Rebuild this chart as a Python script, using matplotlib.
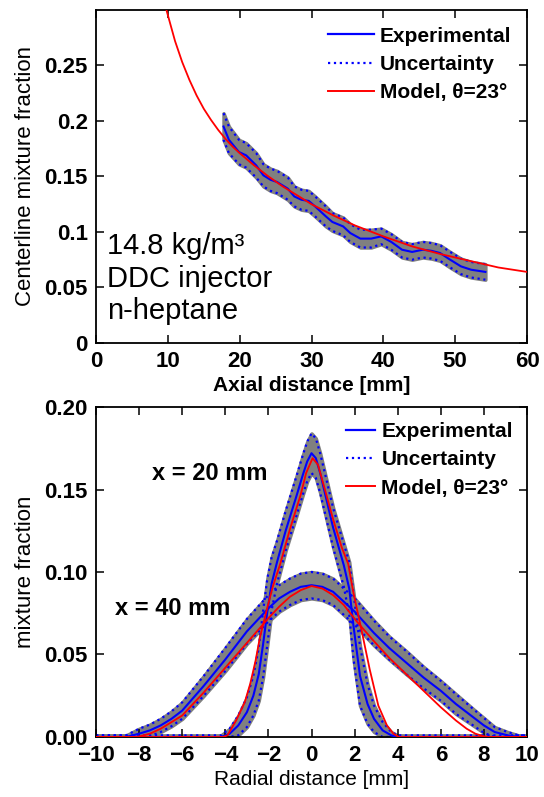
import matplotlib
matplotlib.use("Agg")
import matplotlib.pyplot as plt
import numpy as np
from matplotlib.lines import Line2D

plt.rcParams['font.family'] = ['Liberation Sans', 'DejaVu Sans']

# ---- top panel: centerline mixture fraction vs axial distance ----
ax_exp = [17.75, 18.5, 19.9, 20.9, 22.3, 23.3, 24.3, 25.2, 26.7, 27.6, 28.6, 29.6,
          30.5, 32.0, 32.9, 34.4, 35.4, 36.8, 38.3, 39.7, 41.1, 42.6, 44.0, 45.5,
          46.7, 47.9, 49.3, 50.8, 52.2, 54.2]
zc_exp = [0.195, 0.183, 0.172, 0.169, 0.160, 0.151, 0.147, 0.145, 0.139, 0.132, 0.129, 0.128,
          0.123, 0.114, 0.109, 0.105, 0.099, 0.094, 0.094, 0.096, 0.091, 0.084, 0.082, 0.084,
          0.083, 0.081, 0.075, 0.069, 0.066, 0.064]
zc_unc = [0.012, 0.012, 0.011, 0.011, 0.011, 0.010, 0.010, 0.010, 0.010, 0.009, 0.009, 0.009,
          0.009, 0.009, 0.008, 0.008, 0.008, 0.008, 0.008, 0.007, 0.007, 0.007, 0.007, 0.007,
          0.007, 0.007, 0.007, 0.007, 0.007, 0.007]

ax_mod = [9.8, 11, 12, 13, 14, 15, 16, 17, 18, 19, 20, 22, 24, 26, 28, 30, 33, 36,
          40, 44, 48, 52, 56, 60]
zc_mod = [0.300, 0.272, 0.253, 0.237, 0.223, 0.211, 0.201, 0.192, 0.184, 0.177, 0.171,
          0.160, 0.150, 0.141, 0.133, 0.125, 0.115, 0.106, 0.096, 0.087, 0.080, 0.074,
          0.068, 0.064]

# ---- bottom panel: radial profiles ----
r20 = [-10, -4.2, -3.8, -3.4, -3.0, -2.7, -2.45, -2.25, -2.05, -1.85, -1.6, -1.2, -0.7,
       -0.4, -0.2, 0.0, 0.2, 0.4, 0.6, 1.0, 1.5, 1.75, 1.95, 2.25, 2.6, 2.9, 3.3, 3.7, 4.0, 10]
z20 = [0, 0, 0.002, 0.007, 0.015, 0.025, 0.038, 0.056, 0.076, 0.093, 0.106, 0.125, 0.146,
       0.159, 0.167, 0.172, 0.169, 0.160, 0.149, 0.127, 0.104, 0.090, 0.067, 0.037, 0.020,
       0.011, 0.004, 0.001, 0, 0]
u20 = [0.001, 0.001, 0.003, 0.006, 0.009, 0.012, 0.016, 0.020, 0.020, 0.016, 0.013, 0.012,
       0.012, 0.012, 0.012, 0.012, 0.012, 0.012, 0.012, 0.012, 0.013, 0.016, 0.020, 0.018,
       0.012, 0.008, 0.005, 0.002, 0.001, 0.001]
r20_mod = [-10, -4.1, -3.9, -3.5, -3.1, -2.85, -2.6, -2.4, -2.1, -1.8, -1.45, -1.0, -0.5,
           -0.25, 0.05, 0.3, 0.6, 1.0, 1.4, 1.7, 1.95, 2.3, 2.7, 3.1, 3.5, 3.8, 4.05, 10]
z20_mod = [0, 0, 0.001, 0.010, 0.021, 0.032, 0.046, 0.060, 0.076, 0.091, 0.105, 0.126, 0.147,
           0.160, 0.169, 0.165, 0.151, 0.132, 0.115, 0.105, 0.087, 0.066, 0.041, 0.019,
           0.007, 0.002, 0, 0]

r40 = [-10, -8.6, -8.0, -7.5, -7.0, -6.5, -6.0, -5.0, -4.0, -3.0, -2.0, -1.5, -1.0, -0.5,
       0.0, 0.5, 1.0, 1.5, 2.0, 2.9, 3.6, 4.4, 5.2, 6.0, 6.7, 7.5, 8.0, 8.5, 9.1, 9.6, 10]
z40 = [0, 0, 0.002, 0.004, 0.007, 0.011, 0.016, 0.031, 0.047, 0.064, 0.078, 0.084, 0.088,
       0.091, 0.092, 0.091, 0.088, 0.082, 0.076, 0.063, 0.054, 0.045, 0.036, 0.028, 0.020,
       0.012, 0.007, 0.003, 0.001, 0, 0]
u40 = [0.001, 0.001, 0.003, 0.0035, 0.004, 0.0045, 0.005, 0.006, 0.007, 0.0075, 0.008,
       0.008, 0.008, 0.008, 0.008, 0.008, 0.008, 0.008, 0.008, 0.0075, 0.007, 0.007, 0.0065,
       0.006, 0.006, 0.005, 0.0045, 0.003, 0.002, 0.001, 0.001]
r40_mod = [-10, -8.1, -7.5, -7.0, -6.0, -5.0, -4.0, -3.0, -2.0, -1.5, -1.0, -0.5, 0.0, 0.5,
           1.0, 1.5, 2.1, 2.9, 3.6, 4.4, 5.2, 6.0, 6.7, 7.2, 7.6, 8.0, 8.2, 10]
z40_mod = [0, 0, 0.002, 0.005, 0.013, 0.027, 0.042, 0.057, 0.072, 0.079, 0.085, 0.089,
           0.0915, 0.090, 0.086, 0.080, 0.070, 0.058, 0.048, 0.038, 0.028, 0.018, 0.010,
           0.005, 0.002, 0.0004, 0, 0]

top_yticks = [0, 0.05, 0.1, 0.15, 0.2, 0.25]
top_yticklabels = ['0', '0.05', '0.1', '0.15', '0.2', '0.25']
bot_yticks = [0, 0.05, 0.10, 0.15, 0.20]
bot_yticklabels = ['0.00', '0.05', '0.10', '0.15', '0.20']

BLUE = '#0000ff'
RED = '#ff0000'
GRAY = '#808080'


def band(ax, x, y, u):
    x = np.array(x)
    y = np.array(y)
    u = np.array(u)
    hi = y + u
    lo = np.maximum(y - u, 0)
    ax.fill_between(x, lo, hi, facecolor=GRAY, edgecolor=GRAY, linewidth=2.5, zorder=1)
    ax.plot(x, hi, ':', color=BLUE, linewidth=1.6, zorder=2)
    ax.plot(x, lo, ':', color=BLUE, linewidth=1.6, zorder=2)
    ax.plot(x, y, '-', color=BLUE, linewidth=1.5, zorder=3)


def style(ax):
    ax.tick_params(direction='in', length=6, width=1.1, top=True, right=True,
                   labelsize=16, pad=6)
    for lab in ax.get_xticklabels() + ax.get_yticklabels():
        lab.set_fontweight('bold')
    for s in ax.spines.values():
        s.set_linewidth(1.3)


def legend(ax, x0, y0, hl):
    handles = [Line2D([], [], color=BLUE, lw=1.6),
               Line2D([], [], color=BLUE, lw=1.6, ls=':'),
               Line2D([], [], color=RED, lw=1.4)]
    labels = ['Experimental', 'Uncertainty', 'Model, θ=23°']
    ax.legend(handles, labels, loc='upper left', bbox_to_anchor=(x0, y0), frameon=False,
              borderpad=0, borderaxespad=0, handlelength=hl, handletextpad=0.3,
              labelspacing=0.45, prop={'size': 15, 'weight': 'bold'})


fig = plt.figure(figsize=(5.44, 7.97), dpi=100)
ax1 = fig.add_axes([0.1765, 0.5697, 0.7923, 0.4178])
ax2 = fig.add_axes([0.1765, 0.0753, 0.7923, 0.4140])

# top
band(ax1, ax_exp, zc_exp, zc_unc)
ax1.plot(ax_mod, zc_mod, '-', color=RED, linewidth=1.3, zorder=4)
ax1.set_xlim(0, 60)
ax1.set_ylim(0, 0.3)
ax1.set_xticks(range(0, 61, 10))
ax1.set_yticks(top_yticks)
ax1.set_yticklabels(top_yticklabels)
style(ax1)
ax1.set_xlabel('Axial distance [mm]', fontsize=15, fontweight='bold', labelpad=3)
ax1.set_ylabel('Centerline mixture fraction', fontsize=16, labelpad=6)
ax1.text(1.5, 0.058, '14.8 kg/m³\nDDC injector\nn-heptane', fontsize=21,
         va='center', ha='left', linespacing=1.2)
legend(ax1, 0.538, 0.95, 2.2)

# bottom
band(ax2, r40, z40, u40)
band(ax2, r20, z20, u20)
ax2.plot(r40_mod, z40_mod, '-', color=RED, linewidth=1.3, zorder=4)
ax2.plot(r20_mod, z20_mod, '-', color=RED, linewidth=1.3, zorder=4)
ax2.set_xlim(-10, 10)
ax2.set_ylim(0, 0.2)
ax2.set_xticks(range(-10, 11, 2))
ax2.set_yticks(bot_yticks)
ax2.set_yticklabels(bot_yticklabels)
style(ax2)
ax2.set_xlabel('Radial distance [mm]', fontsize=15, labelpad=3)
ax2.set_ylabel('mixture fraction', fontsize=16, labelpad=6)
ax2.text(-7.4, 0.160, 'x = 20 mm', fontsize=17, fontweight='bold', va='center', ha='left')
ax2.text(-9.1, 0.078, 'x = 40 mm', fontsize=17, fontweight='bold', va='center', ha='left')
legend(ax2, 0.58, 0.955, 1.4)

fig.savefig('out.png', dpi=100)
